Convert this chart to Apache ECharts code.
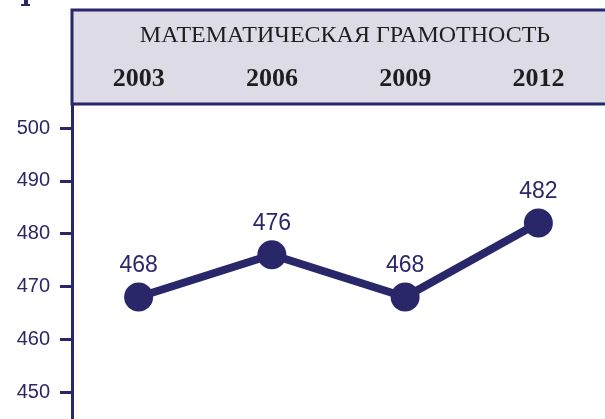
<!DOCTYPE html>
<html lang="ru">
<head>
	<meta charset="utf-8">
	<title>Математическая грамотность</title>
	<script src="https://cdn.jsdelivr.net/npm/echarts@6/dist/echarts.min.js"></script>
	<style>
		html, body { margin: 0; padding: 0; background: #fff; }
		#main { width: 605px; height: 419px; }
	</style>
</head>
<body>
	<div id="main"></div>
	<script type="text/javascript">
		// данные
		var years = ['2003', '2006', '2009', '2012'];
		var scores = [468, 476, 468, 482];
		var yTicks = [450, 460, 470, 480, 490, 500];
		var headerTitle = 'МАТЕМАТИЧЕСКАЯ ГРАМОТНОСТЬ';

		var navy = '#29276a';

		var myChart = echarts.init(document.getElementById('main'));

		var option = {
			animation: false,
			grid: {
				left: 72,
				right: 0,
				top: 104,
				bottom: 0
			},
			xAxis: {
				type: 'category',
				position: 'top',
				data: years,
				axisLine: { show: false },
				axisTick: { show: false },
				axisLabel: {
					margin: 12,
					color: '#1e1e1e',
					fontFamily: 'Liberation Serif',
					fontWeight: 'bold',
					fontSize: 26
				}
			},
			yAxis: {
				type: 'value',
				min: 444.9,
				max: 504.55,
				splitLine: { show: false },
				axisLine: {
					show: true,
					lineStyle: { color: navy, width: 3 }
				},
				axisTick: {
					show: true,
					length: 12,
					customValues: yTicks,
					lineStyle: { color: navy, width: 3 }
				},
				axisLabel: {
					margin: 22,
					customValues: yTicks,
					color: navy,
					fontFamily: 'Liberation Sans',
					fontSize: 20
				}
			},
			graphic: [
				{
					type: 'rect',
					z: -1,
					shape: { x: 72, y: 10, width: 540, height: 94 },
					style: { fill: '#dcdbe6', stroke: navy, lineWidth: 3 }
				},
				{
					type: 'text',
					x: 345,
					y: 36,
					style: {
						text: headerTitle,
						fill: '#1e1e1e',
						font: '24px "Liberation Serif"',
						align: 'center',
						verticalAlign: 'middle'
					}
				},
				{
					type: 'polygon',
					shape: { points: [[24, 0], [28, 0], [28, 4], [30, 4], [30, 6], [21, 6], [21, 4], [24, 4]] },
					style: { fill: navy }
				}
			],
			series: [
				{
					type: 'line',
					data: scores,
					symbol: 'circle',
					symbolSize: 29,
					itemStyle: { color: navy },
					lineStyle: { color: navy, width: 8 },
					label: {
						show: true,
						position: 'top',
						distance: 5,
						color: navy,
						fontFamily: 'Liberation Sans',
						fontSize: 23
					}
				}
			]
		};

		myChart.setOption(option);
	</script>
</body>
</html>
